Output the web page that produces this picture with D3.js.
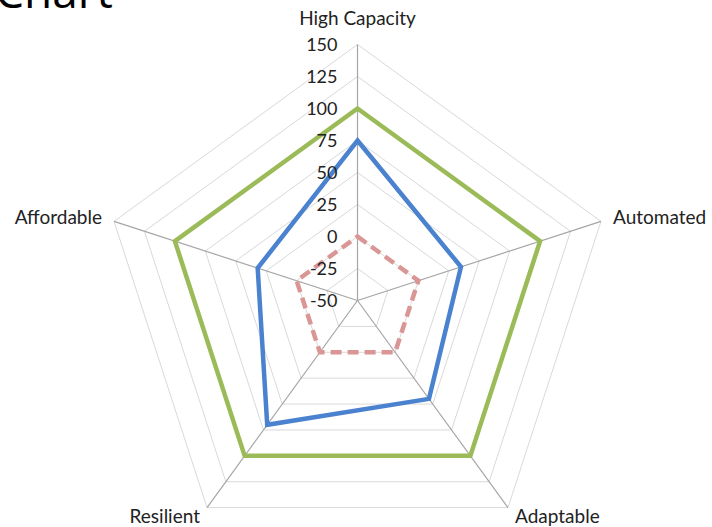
<!DOCTYPE html>
<html>
<head>
<meta charset="utf-8">
<script src="https://cdn.jsdelivr.net/npm/d3@7/dist/d3.min.js"></script>
<style>
  html, body { margin: 0; padding: 0; background: #fff; }
  svg { display: block; }
  text { font-family: Lato, "Open Sans", sans-serif; fill: #222; }
</style>
</head>
<body>
<svg id="chart" width="712" height="527"></svg>
<script>
// Axes of the radar, clockwise from the top
const categories = ["High Capacity", "Automated", "Adaptable", "Resilient", "Affordable"];
// Series values, one per category
const seriesGreen = [100, 100, 100, 100, 100];
const seriesBlue  = [75, 35, 45, 70, 32];
const seriesRed   = [0, 0, 0, 0, 0];
// Radial tick labels
const tickValues = [-50, -25, 0, 25, 50, 75, 100, 125, 150];

const svg = d3.select("#chart");
const cx = 357.5, cy = 300.5, R = 256;

const r = d3.scaleLinear().domain([-50, 150]).range([0, R]);
const angle = d3.scaleBand().domain(categories).range([0, 2 * Math.PI]).paddingInner(0).paddingOuter(0);
const ang = c => angle(c);

const pt = (c, v) => {
  const a = ang(c);
  return [cx + r(v) * Math.sin(a), cy - r(v) * Math.cos(a)];
};

// Title, running off the top edge
svg.append("text").attr("x", -5).attr("y", 8)
  .style("font-family", "'Open Sans', sans-serif")
  .style("font-size", "46px").style("fill", "#000").text("Chart");

const g = svg.append("g");

// Grid rings
tickValues.filter(t => t > -50).forEach(t => {
  g.append("polygon")
    .attr("points", categories.map(c => pt(c, t).join(",")).join(" "))
    .attr("fill", "none").attr("stroke", "#d9d9d9").attr("stroke-width", 1);
});

// Spokes
categories.forEach(c => {
  const [x, y] = pt(c, 150);
  g.append("line").attr("x1", cx).attr("y1", cy).attr("x2", x).attr("y2", y)
    .attr("stroke", "#a6a6a6").attr("stroke-width", 1.2);
});

// Series lines
const line = d3.line().curve(d3.curveLinearClosed);
const drawSeries = (vals, color, dash) => {
  g.append("path")
    .attr("d", line(categories.map((c, i) => pt(c, vals[i]))))
    .attr("fill", "none").attr("stroke", color).attr("stroke-width", 4.5)
    .attr("stroke-linejoin", "miter")
    .attr("stroke-dasharray", dash || null);
};
drawSeries(seriesGreen, "#9bbb59");
drawSeries(seriesBlue, "#4a82d0");
drawSeries(seriesRed, "#d99694", "11,6");

// Radial tick labels
tickValues.forEach(t => {
  g.append("text").attr("x", cx - 20).attr("y", cy - r(t)).attr("dy", "0.35em")
    .attr("text-anchor", "end").style("font-size", "18px").text(t);
});

// Category labels
const labelPos = {
  "High Capacity": { x: cx, y: 25, anchor: "middle" },
  "Automated": { x: 613, y: 224, anchor: "start" },
  "Adaptable": { x: 515, y: 523, anchor: "start" },
  "Resilient": { x: 200, y: 523, anchor: "end" },
  "Affordable": { x: 102, y: 224, anchor: "end" }
};
categories.forEach(c => {
  const p = labelPos[c];
  g.append("text").attr("x", p.x).attr("y", p.y).attr("text-anchor", p.anchor)
    .style("font-size", "19px").text(c);
});
</script>
</body>
</html>
